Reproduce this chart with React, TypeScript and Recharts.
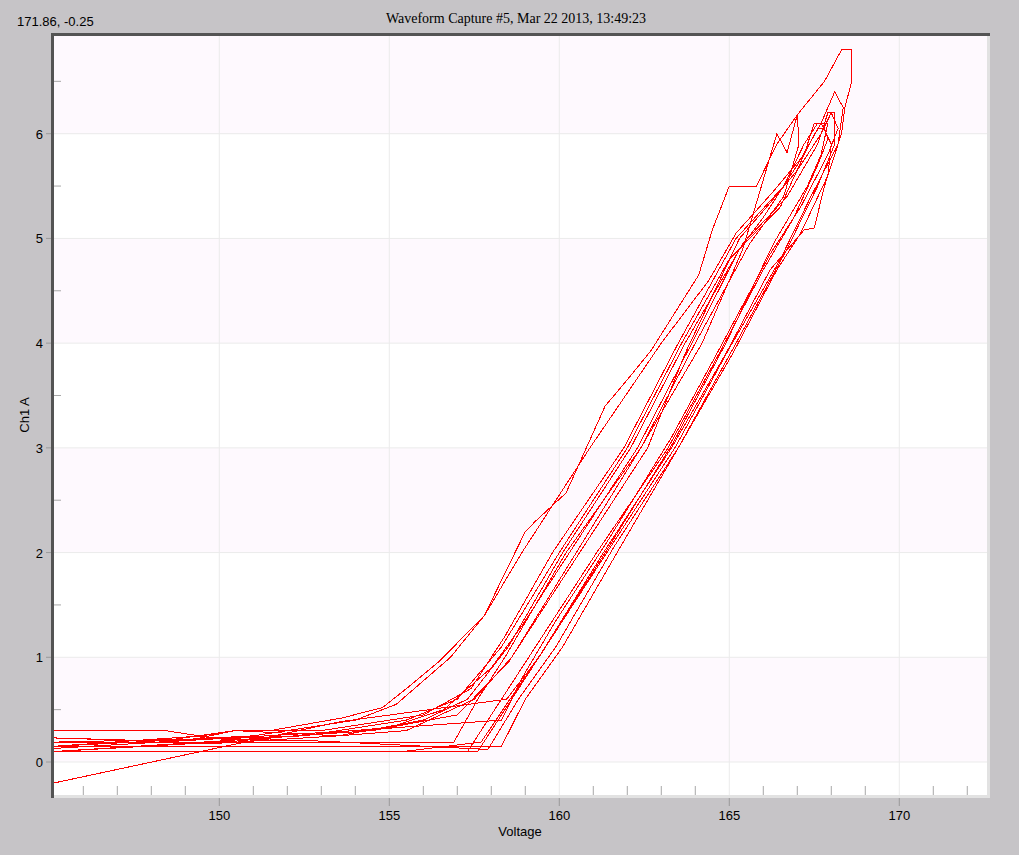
import React from 'react';
import { LineChart, Line, XAxis, YAxis, ReferenceArea, ReferenceLine } from 'recharts';

// Voltage (V) vs Ch1 current (A), one array per captured cycle
const loopA = [[145.14,-0.2],[153.55,0.385],[158.45,0.6],[159.4,1.0],[161.3,2.0],[163.3,3.0],[164.9,3.9],[166.2,4.7],[167.2,5.08],[167.5,5.1],[167.8,5.5],[168.3,6.0],[168.4,6.25],[168.6,6.5],[168.6,6.8],[168.3,6.8],[167.8,6.5],[167.0,6.18],[166.4,5.9],[165.8,5.5],[165.0,5.5],[164.5,5.08],[164.1,4.65],[162.7,3.93],[162.0,3.65],[161.35,3.4],[160.2,2.57],[159.3,2.3],[159.0,2.2],[158.35,1.77],[157.8,1.4],[157.1,1.17],[156.5,0.97],[155.5,0.7],[154.8,0.52],[153.6,0.42],[151.5,0.3],[150.45,0.3],[149.3,0.22],[145.14,0.19]];
const loopB = [[145.14,0.1],[157.6,0.1],[158.5,0.55],[159.5,1.05],[161.4,2.0],[163.4,3.0],[165.0,3.95],[166.5,4.8],[167.4,5.4],[168.2,5.9],[168.35,6.25],[168.1,6.4],[167.7,6.1],[167.0,5.7],[166.0,5.2],[165.3,4.9],[163.9,4.0],[162.3,3.0],[160.3,2.0],[158.9,1.3],[158.0,0.9],[156.6,0.5],[155.0,0.33],[150.5,0.2],[145.14,0.1]];
const loopC = [[145.14,0.3],[148.4,0.3],[150.0,0.22],[153.0,0.2],[157.9,0.12],[158.8,0.6],[159.9,1.1],[161.6,2.05],[163.5,3.0],[165.2,4.0],[166.7,4.9],[167.6,5.5],[168.1,5.9],[168.1,6.2],[167.9,6.2],[167.6,5.9],[166.7,5.4],[165.4,4.95],[163.7,4.0],[162.1,3.0],[160.1,2.0],[158.5,1.1],[157.3,0.6],[156.0,0.4],[153.5,0.25],[150.45,0.3],[149.5,0.25],[145.14,0.15]];
const loopD = [[145.14,0.15],[158.3,0.15],[159.0,0.6],[160.1,1.1],[161.7,2.0],[163.5,3.0],[165.1,3.9],[166.4,4.7],[167.1,5.05],[167.9,5.6],[168.0,5.9],[167.7,6.1],[167.5,6.1],[167.2,5.8],[166.5,5.3],[165.0,4.8],[163.6,4.0],[162.0,3.0],[160.0,2.0],[158.3,1.1],[157.0,0.6],[155.5,0.4],[152.5,0.25],[148.0,0.2],[145.14,0.23]];
const loopE = [[145.14,0.1],[157.3,0.1],[158.2,0.55],[159.1,1.0],[161.1,2.0],[163.2,3.0],[164.7,3.9],[166.0,4.7],[166.9,5.2],[167.6,5.7],[167.9,5.95],[167.8,6.05],[167.6,6.05],[167.2,5.8],[166.3,5.45],[165.2,5.05],[164.4,4.6],[163.0,4.0],[160.9,3.0],[158.9,2.0],[157.8,1.4],[156.8,1.0],[155.2,0.55],[154.0,0.4],[151.0,0.25],[145.14,0.15]];
const loopF = [[145.14,0.19],[156.9,0.19],[157.6,0.6],[158.4,1.0],[160.2,2.0],[162.4,3.0],[164.2,4.0],[165.4,4.9],[166.4,6.0],[166.7,5.82],[167.0,6.18],[167.05,5.9],[166.6,5.4],[165.6,4.95],[164.0,4.0],[162.4,3.0],[160.5,2.0],[158.6,1.0],[157.5,0.6],[155.5,0.3],[153.5,0.25],[150.0,0.18],[145.14,0.19]];
const loopG = [[145.14,0.1],[155.4,0.1],[157.7,0.19],[158.55,0.6],[159.6,1.1],[161.45,2.05],[163.35,3.05],[164.9,4.0],[166.3,4.95],[167.3,5.5],[167.7,5.8],[167.9,6.1],[167.6,6.1],[167.2,5.9],[166.6,5.5],[165.2,5.0],[163.5,4.0],[161.9,3.0],[159.8,2.0],[158.4,1.2],[157.4,0.7],[156.0,0.45],[153.0,0.3],[150.45,0.3],[148.3,0.2],[145.14,0.23]];
const loopH = [[145.14,0.13],[154.0,0.3],[158.3,0.4],[158.9,0.8],[159.9,1.35],[161.4,2.1],[163.3,3.1],[164.8,4.0],[166.2,4.85],[167.1,5.3],[167.9,5.8],[168.2,6.05],[168.0,6.2],[167.7,6.0],[167.0,5.65],[166.1,5.3],[165.3,5.0],[163.7,3.9],[162.6,3.0],[160.6,2.0],[158.5,0.95],[157.0,0.45],[154.5,0.3],[150.0,0.2],[145.14,0.1]];

const loops = [loopA, loopB, loopC, loopD, loopE, loopF, loopG, loopH];

const xDomain = [145.138, 172.58];
const yDomain = [-0.315, 6.933];
const xTicks = [146,147,148,149,150,151,152,153,154,155,156,157,158,159,160,161,162,163,164,165,166,167,168,169,170,171,172];
const xMajor = [150, 155, 160, 165, 170];
const yTicks = [0,0.5,1,1.5,2,2.5,3,3.5,4,4.5,5,5.5,6,6.5];
const yMajor = [0, 1, 2, 3, 4, 5, 6];
const bands = [[0, 1], [2, 3], [4, 5], [6, 7]];

const GRAY = '#c6c4c7';
const font = '"Liberation Sans", Arial, sans-serif';

const XTick = (props: any) => {
  const { x, y, payload } = props;
  const v = payload.value;
  if (v % 5 === 0) {
    return (
      <g>
        <line x1={x} x2={x} y1={y + 2} y2={y + 11} stroke="#9a9a9a" />
        <text x={x} y={y + 25} textAnchor="middle" fontSize={13} fontFamily={font} fill="#000">{v}</text>
      </g>
    );
  }
  return <line x1={x} x2={x} y1={y - 9} y2={y} stroke="#a8a8a8" />;
};

const YTick = (props: any) => {
  const { x, y, payload } = props;
  const v = payload.value;
  if (Number.isInteger(v)) {
    return (
      <g>
        <line x1={x - 8} x2={x - 3} y1={y} y2={y} stroke="#9a9a9a" />
        <text x={x - 11} y={y + 5} textAnchor="end" fontSize={13} fontFamily={font} fill="#000">{v}</text>
      </g>
    );
  }
  return <line x1={x} x2={x + 7} y1={y} y2={y} stroke="#a8a8a8" />;
};

const abs = (l: number, t: number, w: number, h: number, bg: string): React.CSSProperties => ({
  position: 'absolute', left: l, top: t, width: w, height: h, background: bg,
});

export default function App() {
  return (
    <div style={{ position: 'absolute', left: 0, top: 0, width: 1019, height: 855, background: GRAY, overflow: 'hidden' }}>
      {/* plot background */}
      <div style={abs(54, 36, 933, 759, '#ffffff')} />
      <div style={{ position: 'absolute', left: 0, top: 0 }}>
        <LineChart width={1019} height={855} margin={{ top: 36, right: 32, bottom: 0, left: 0 }}>
          {bands.map(([a, b]) => (
            <ReferenceArea key={a} y1={a} y2={b} fill="#fef9fe" fillOpacity={1} stroke="none" ifOverflow="hidden" />
          ))}
          {xMajor.map(v => <ReferenceLine key={'x' + v} x={v} stroke="#ebebeb" />)}
          {yMajor.map(v => <ReferenceLine key={'y' + v} y={v} stroke="#ebebeb" />)}
          <XAxis
            type="number"
            dataKey="x"
            domain={xDomain}
            allowDataOverflow
            ticks={xTicks}
            interval={0}
            height={60}
            axisLine={false}
            tickLine={false}
            tickSize={0}
            tickMargin={0}
            tick={<XTick />}
          />
          <YAxis
            type="number"
            dataKey="y"
            domain={yDomain}
            allowDataOverflow
            ticks={yTicks}
            interval={0}
            width={54}
            axisLine={false}
            tickLine={false}
            tickSize={0}
            tickMargin={0}
            tick={<YTick />}
          />
          {loops.map((loop, i) => (
            <Line
              key={i}
              data={loop.map(([x, y]) => ({ x, y }))}
              dataKey="y"
              type="linear"
              stroke="#ff0000"
              strokeWidth={1}
              dot={false}
              activeDot={false}
              isAnimationActive={false}
              style={{ shapeRendering: 'crispEdges' }}
            />
          ))}
        </LineChart>
      </div>
      {/* sunken frame */}
      <div style={abs(51, 33, 939, 3, '#545454')} />
      <div style={abs(51, 33, 3, 765, '#545454')} />
      <div style={abs(987, 36, 3, 762, '#e2e2e2')} />
      <div style={abs(54, 795, 936, 3, '#e2e2e2')} />
      {/* texts */}
      <div style={{ position: 'absolute', left: 17, top: 14, fontFamily: font, fontSize: 13, color: '#000', whiteSpace: 'nowrap' }}>171.86, -0.25</div>
      <div style={{ position: 'absolute', left: 0, width: 1032, top: 11, textAlign: 'center', fontFamily: '"Liberation Serif", "Times New Roman", serif', fontSize: 14, color: '#000', whiteSpace: 'nowrap' }}>
        Waveform Capture #5, Mar 22 2013, 13:49:23
      </div>
      <div style={{ position: 'absolute', left: 420, width: 200, top: 824, textAlign: 'center', fontFamily: font, fontSize: 13, color: '#000' }}>Voltage</div>
      <div style={{ position: 'absolute', left: 24, top: 415, transform: 'translate(-50%, -50%) rotate(-90deg)', fontFamily: font, fontSize: 13, color: '#000', whiteSpace: 'nowrap' }}>Ch1 A</div>
    </div>
  );
}
